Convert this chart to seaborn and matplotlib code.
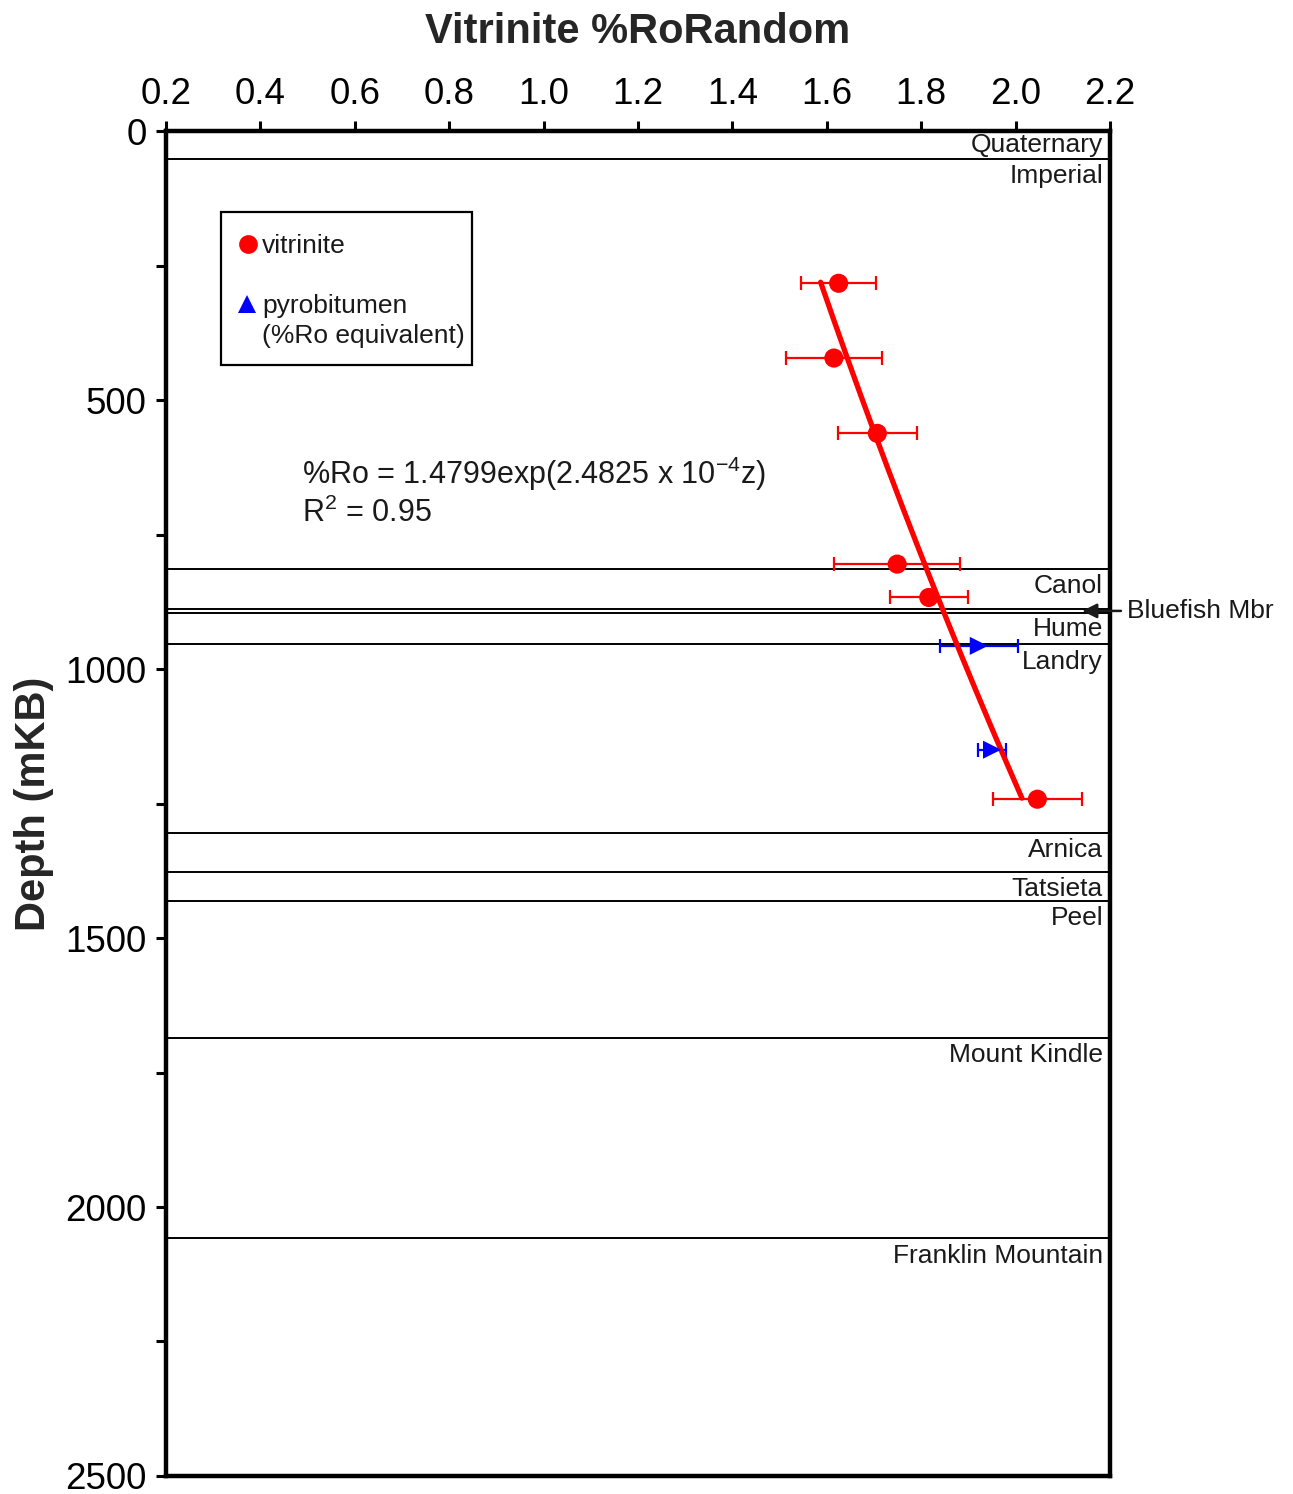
import numpy as np
import pandas as pd
import matplotlib
matplotlib.use("Agg")
import matplotlib.pyplot as plt
from matplotlib.patches import Rectangle
from matplotlib.lines import Line2D
from matplotlib.ticker import MultipleLocator
import seaborn as sns

# ---- vitrinite reflectance measurements ----
vit_ro = [1.625, 1.615, 1.707, 1.749, 1.816, 2.046]
vit_depth = [283, 422, 562, 805, 867, 1242]
vit_err = [0.080, 0.101, 0.084, 0.134, 0.083, 0.094]

# ---- pyrobitumen reflectance (%Ro equivalent) ----
pyro_ro = [1.922, 1.950]
pyro_depth = [957, 1150]
pyro_err = [0.082, 0.029]

# ---- exponential fit: %Ro = a * exp(b * z) ----
fit_a = 1.4799
fit_b = 2.4825e-4
fit_depth_range = [281, 1240]
fit_r2 = 0.95

# ---- formation tops (mKB) ----
formations = ["Quaternary", "Imperial", "Canol", "Bluefish Mbr", "Hume", "Landry",
              "Arnica", "Tatsieta", "Peel", "Mount Kindle", "Franklin Mountain"]
formation_tops = [0, 52, 814, 888, 896, 954, 1304, 1377, 1431, 1686, 2058]
bluefish_base = 896

x_ticks = [0.2, 0.4, 0.6, 0.8, 1.0, 1.2, 1.4, 1.6, 1.8, 2.0, 2.2]
y_ticks = [0, 500, 1000, 1500, 2000, 2500]

sns.set_theme(style="ticks")
plt.rcParams["font.family"] = ["Liberation Sans", "DejaVu Sans"]
plt.rcParams["mathtext.fontset"] = "custom"
plt.rcParams["mathtext.rm"] = "Liberation Sans"
plt.rcParams["mathtext.it"] = "Liberation Sans"
plt.rcParams["mathtext.sf"] = "Liberation Sans"

RED = "#ff0000"
BLUE = "#0000ff"
TXT = "#1a1a1a"

fig = plt.figure(figsize=(12.93, 14.94), dpi=100)
ax = fig.add_axes([0.1284, 0.01205, 0.7301, 0.90025])

vit = pd.DataFrame({"ro": vit_ro, "depth": vit_depth, "err": vit_err})
pyro = pd.DataFrame({"ro": pyro_ro, "depth": pyro_depth, "err": pyro_err})

z = np.linspace(fit_depth_range[0], fit_depth_range[1], 200)
fit = pd.DataFrame({"depth": z, "ro": fit_a * np.exp(fit_b * z)})

# formation boundaries
line_tops = [d for d in formation_tops if d > 0]
ax.hlines(line_tops, 0.2, 2.2, colors="black", linewidth=1.4, zorder=1)

# error bars
ax.errorbar(vit["ro"], vit["depth"], xerr=vit["err"], fmt="none", ecolor=RED,
            elinewidth=1.6, capsize=5, capthick=1.6, zorder=3)
ax.errorbar(pyro["ro"], pyro["depth"], xerr=pyro["err"], fmt="none", ecolor=BLUE,
            elinewidth=1.6, capsize=5, capthick=1.6, zorder=3)

# fitted trend
sns.lineplot(data=fit, x="ro", y="depth", sort=False, color=RED, linewidth=3.8,
             ax=ax, zorder=4, legend=False)

# measurements
sns.scatterplot(data=vit, x="ro", y="depth", color=RED, s=190, marker="o",
                edgecolor="none", linewidth=0, ax=ax, zorder=5, legend=False)
sns.scatterplot(data=pyro, x="ro", y="depth", color=BLUE, s=170, marker=">",
                edgecolor="none", linewidth=0, ax=ax, zorder=5, legend=False)

ax.set_xlim(0.2, 2.2)
ax.set_ylim(2500, 0)
ax.set_xticks(x_ticks)
ax.set_xticklabels([f"{v:.1f}" for v in x_ticks])
ax.set_yticks(y_ticks)
ax.set_yticklabels([str(v) for v in y_ticks])
ax.yaxis.set_minor_locator(MultipleLocator(250))
ax.xaxis.tick_top()
ax.xaxis.set_label_position("top")
ax.tick_params(axis="both", which="both", direction="out", length=7, width=2.2,
               colors="black", labelsize=26.5)
ax.tick_params(axis="x", pad=7)
ax.tick_params(axis="y", pad=7)
for s in ax.spines.values():
    s.set_linewidth(3.2)
    s.set_color("black")
    s.set_visible(True)

ax.set_xlabel("Vitrinite %RoRandom", fontsize=30, fontweight="bold", labelpad=24)
ax.set_ylabel("Depth (mKB)", fontsize=30, fontweight="bold", labelpad=8)

# formation names
centered = {"Quaternary": (0, 52), "Hume": (896, 954)}
for name, top in zip(formations, formation_tops):
    if name == "Bluefish Mbr":
        continue
    if name in centered:
        a, b = centered[name]
        ax.text(0.9926, (a + b) / 2, name, transform=ax.get_yaxis_transform(),
                ha="right", va="center", fontsize=19, color=TXT)
    else:
        ax.annotate(name, xy=(0.9926, top), xycoords=ax.get_yaxis_transform(),
                    xytext=(0, -12.5), textcoords="offset points",
                    ha="right", va="center", fontsize=19, color=TXT)

bf_top = formation_tops[formations.index("Bluefish Mbr")]
ax.annotate("Bluefish Mbr", xy=(2.141, (bf_top + bluefish_base) / 2),
            xytext=(1.018, (bf_top + bluefish_base) / 2),
            textcoords=ax.get_yaxis_transform(),
            ha="left", va="center", fontsize=19, color=TXT, annotation_clip=False,
            arrowprops=dict(arrowstyle="-|>", color=TXT, lw=1.8,
                            mutation_scale=22, shrinkA=2, shrinkB=0))

# fit equation
ax.text(0.488, 637, r"%Ro = 1.4799exp(2.4825 x 10$^{\mathregular{-4}}$z)",
        fontsize=22, ha="left", va="center", color=TXT)
ax.text(0.488, 711, r"R$^{\mathregular{2}}$ = " + f"{fit_r2:.2f}",
        fontsize=22, ha="left", va="center", color=TXT)

# legend box
ax.add_patch(Rectangle((0.0583, 0.826), 0.2659, 0.1137, transform=ax.transAxes,
                       facecolor="white", edgecolor="black", linewidth=1.6, zorder=6))
ax.add_line(Line2D([0.0869], [0.916], transform=ax.transAxes, marker="o",
                   markersize=13.5, color=RED, markeredgewidth=0, zorder=7))
ax.add_line(Line2D([0.0858], [0.8715], transform=ax.transAxes, marker="^",
                   markersize=12.5, color=BLUE, markeredgewidth=0, zorder=7))
ax.text(0.1017, 0.9145, "vitrinite", transform=ax.transAxes, fontsize=19,
        ha="left", va="center", color=TXT, zorder=7)
ax.text(0.1017, 0.8585, "pyrobitumen\n(%Ro equivalent)", transform=ax.transAxes,
        fontsize=19, ha="left", va="center", color=TXT, linespacing=1.3, zorder=7)

fig.savefig("out.png", dpi=100)
